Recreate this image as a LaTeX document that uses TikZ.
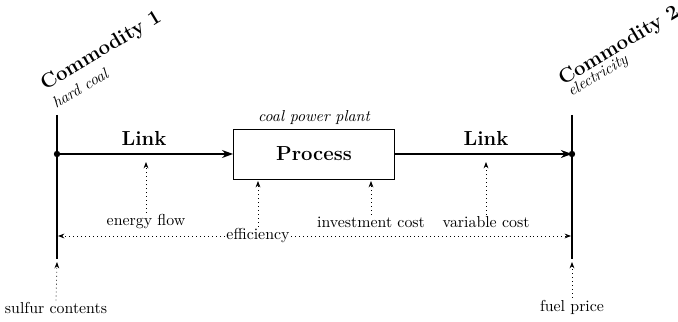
\documentclass[tikz,border=0pt]{standalone}
\usetikzlibrary{arrows.meta}
\begin{document}
\begin{tikzpicture}[x=0.63pt,y=-0.63pt,
  bigbold/.style={font=\fontsize{12.8}{15}\selectfont\bfseries},
  subitalic/.style={font=\itshape},
  bar/.style={line width=1.3pt},
  linkarrow/.style={line width=1pt,-{Stealth[length=7pt,width=5pt]}},
  param/.style={dotted,line width=0.5pt,-{Stealth[length=4pt,width=3pt]}},
  lbl/.style={inner sep=1pt},
  tilted/.style={anchor=base west,rotate=31,inner sep=0pt},
]
\useasboundingbox (0,0) rectangle (678,322);

% commodity bars
\coordinate (ltop) at (57,115);
\coordinate (lbot) at (57,259);
\coordinate (rtop) at (572,115);
\coordinate (rbot) at (572,259);
\coordinate (ldot) at (57,154);
\coordinate (rdot) at (572,154);
\draw[bar] (ltop) -- (lbot);
\draw[bar] (rtop) -- (rbot);
\fill (ldot) circle (3.2);
\fill (rdot) circle (3.2);

% commodity titles
\node[tilted,bigbold] (c1) at (45,91) {Commodity 1};
\node[tilted,subitalic] (c1s) at (56,109) {hard coal};
\node[tilted,bigbold] (c2) at (563,86) {Commodity 2};
\node[tilted,subitalic] (c2s) at (571,97) {electricity};

% process
\node[draw,line width=0.5pt,minimum width=161*0.63pt,minimum height=50*0.63pt,bigbold] (proc) at (314,154) {Process};
\node[subitalic,anchor=base] (plant) at (314,122) {coal power plant};

% links
\draw[linkarrow] (ldot) -- (proc.west);
\draw[linkarrow] (proc.east) -- (rdot);
\node[bigbold,anchor=base] (link1) at (144,146) {Link};
\node[bigbold,anchor=base] (link2) at (486,146) {Link};

% parameters
\node[lbl] (eflow) at (146,222) {energy flow};
\node[lbl] (invest) at (371,222) {investment cost};
\node[lbl] (varc) at (486,222) {variable cost};
\node[lbl] (eff) at (258,236) {efficiency};
\node[lbl] (sulf) at (56,308) {sulfur contents};
\node[lbl] (fuel) at (572,307) {fuel price};

\coordinate (eflowT) at (146,162);
\coordinate (varcT) at (486,162);
\coordinate (investT) at (371,181);
\coordinate (effT) at (258,181);
\coordinate (effL) at (58,236);
\coordinate (effR) at (571,236);
\coordinate (sulfT) at (57,262);
\coordinate (fuelT) at (572,262);

\draw[param] (eflow.north) -- (eflowT);
\draw[param] (varc.north) -- (varcT);
\draw[param] (invest.north) -- (investT);
\draw[param] (eff.north) -- (effT);
\draw[param] (eff.west) -- (effL);
\draw[param] (eff.east) -- (effR);
\draw[param] (sulf.north) -- (sulfT);
\draw[param] (fuel.north) -- (fuelT);
\end{tikzpicture}
\end{document}
